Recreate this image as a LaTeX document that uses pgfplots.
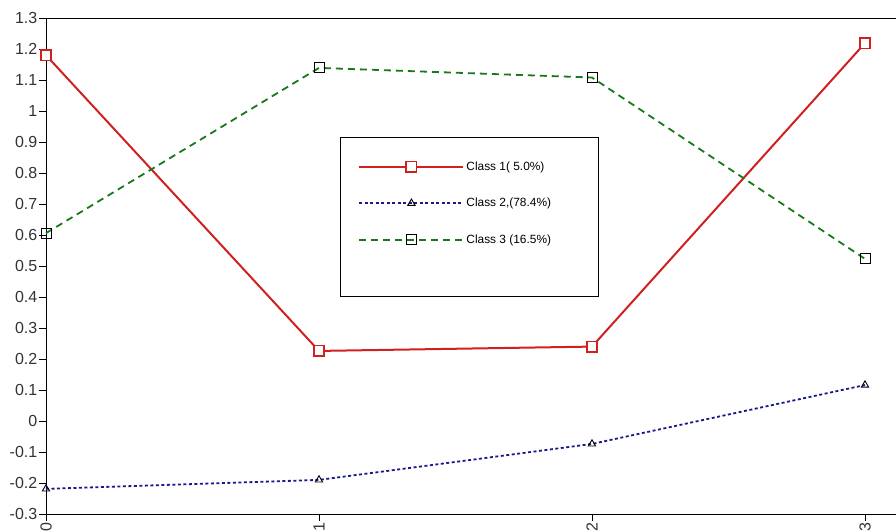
\documentclass[border=0pt]{standalone}
\usepackage{fontspec}
\setmainfont{Liberation Sans}
\usepackage{pgfplots}
\pgfplotsset{compat=1.18}
\definecolor{c1}{RGB}{208,32,32}
\definecolor{c2}{RGB}{25,25,140}
\definecolor{c3}{RGB}{25,120,25}
\pgfdeclareplotmark{rsquare}{%
  \pgfsetcornersarced{\pgfpoint{2pt}{2pt}}%
  \pgfpathrectangle{\pgfpoint{-\pgfplotmarksize}{-\pgfplotmarksize}}{\pgfpoint{2\pgfplotmarksize}{2\pgfplotmarksize}}%
  \pgfusepathqfillstroke}
\begin{document}
\begin{tikzpicture}
\begin{axis}[name=ax,
  scale only axis, width=850pt, height=496pt,
  xmin=0, xmax=3.1136, ymin=-0.3, ymax=1.3,
  axis x line*=box, axis y line*=left,
  xtick pos=bottom, ytick pos=left, tick align=outside,
  major tick length=7pt,
  every tick/.style={black, line width=0.8pt},
  axis line style={black, line width=0.9pt},
  xtick={0,1,2,3},
  xticklabels={0,1,2,3},
  xticklabel style={rotate=90, anchor=east, inner sep=1.5pt},
  ytick={-0.3,-0.2,-0.1,0,0.1,0.2,0.3,0.4,0.5,0.6,0.7,0.8,0.9,1,1.1,1.2,1.3},
  yticklabels={{-0.3},{-0.2},{-0.1},{0},{0.1},{0.2},{0.3},{0.4},{0.5},{0.6},{0.7},{0.8},{0.9},{1},{1.1},{1.2},{1.3}},
  yticklabel style={inner sep=1.5pt},
  tick label style={font=\fontsize{16}{19}\selectfont, text=black!80},
  clip=false,
  legend image code/.code={
    \draw[#1, mark repeat=2, mark phase=2] plot coordinates {(0pt,0pt) (52pt,0pt) (104pt,0pt)};
  },
  legend style={at={(axis cs:1.077,0.916)}, anchor=north west,
    draw=black, line width=0.8pt, fill=white,
    font=\fontsize{11.9}{14}\selectfont,
    inner xsep=18pt, inner ysep=22.3pt, row sep=22.3pt,
    cells={anchor=west}},
]
\addplot[c1, line width=2pt, mark=rsquare, mark size=5.2pt,
  mark options={solid, fill=white, line width=1.5pt}]
  coordinates {(0,1.180) (1,0.226) (2,0.240) (3,1.219)};
\addlegendentry{Class 1( 5.0\%)\hbox to 34pt{}}
\addplot[c2, line width=1.8pt, dash pattern=on 3pt off 2.5pt, mark=triangle, mark size=4.2pt,
  mark options={solid, draw=black, fill=white, line width=0.9pt}]
  coordinates {(0,-0.219) (1,-0.190) (2,-0.074) (3,0.116)};
\addlegendentry{Class 2,(78.4\%)}
\addplot[c3, line width=1.8pt, dash pattern=on 7pt off 5pt, mark=square, mark size=5pt,
  mark options={solid, draw=black, fill=white, line width=0.9pt}]
  coordinates {(0,0.606) (1,1.139) (2,1.108) (3,0.523)};
\addlegendentry{Class 3 (16.5\%)}
\addlegendimage{empty legend}
\addlegendentry[font=\fontsize{1}{1}\selectfont]{}
\end{axis}
\pgfresetboundingbox
\path[use as bounding box] ([xshift=-46pt,yshift=-18pt]ax.south west) rectangle ([xshift=850pt,yshift=18pt]ax.north west);
\end{tikzpicture}
\end{document}
